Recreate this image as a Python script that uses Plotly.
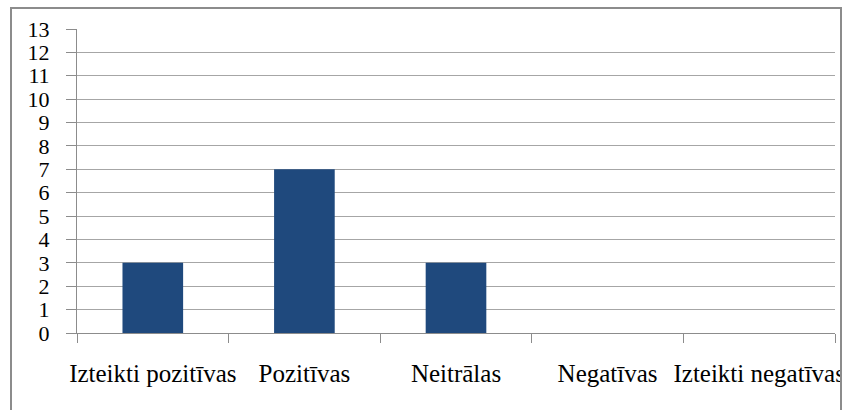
import plotly.graph_objects as go

categories = ["Izteikti pozitīvas", "Pozitīvas", "Neitrālas", "Negatīvas", "Izteikti negatīvas"]
counts = [3, 7, 3, 0, 0]
y_ticks = list(range(0, 14))

W, H = 843, 410
L, R, T, B = 77, 8, 29, 77
plot_w = W - L - R
plot_h = H - T - B

def px_x(px):
    return (px - L) / plot_w

def px_y(py):
    return (H - B - py) / plot_h

fig = go.Figure(
    go.Bar(
        x=categories,
        y=counts,
        marker=dict(color="#1F497D", line=dict(width=0)),
        width=0.4,
    )
)

serif = "Liberation Serif, Times New Roman, serif"

fig.update_layout(
    width=W,
    height=H,
    margin=dict(l=L, r=R, t=T, b=B, autoexpand=False),
    paper_bgcolor="white",
    plot_bgcolor="white",
    showlegend=False,
    font=dict(family=serif, color="black"),
    shapes=[
        # outer chart frame
        dict(type="rect", xref="paper", yref="paper",
             x0=px_x(11), x1=px_x(841), y0=px_y(430), y1=px_y(8),
             line=dict(color="#8C8C8C", width=2), layer="above"),
        # mask beyond the right frame edge
        dict(type="rect", xref="paper", yref="paper",
             x0=px_x(842), x1=px_x(860), y0=px_y(430), y1=px_y(0),
             fillcolor="white", line=dict(width=0), layer="above"),
    ],
)

fig.update_xaxes(
    type="category",
    automargin=False,
    tickangle=0,
    tickson="boundaries",
    ticks="outside",
    ticklen=9,
    tickcolor="#8C8C8C",
    tickwidth=1,
    showline=True,
    linecolor="#8C8C8C",
    linewidth=1,
    showgrid=False,
    tickfont=dict(family=serif, size=25, color="black"),
    ticklabelstandoff=18,
)

fig.update_yaxes(
    automargin=False,
    range=[0, 13],
    tickvals=y_ticks,
    ticks="outside",
    ticklen=10,
    tickcolor="#8C8C8C",
    tickwidth=1,
    showline=True,
    linecolor="#8C8C8C",
    linewidth=1,
    showgrid=True,
    gridcolor="#A6A6A6",
    gridwidth=1,
    zeroline=False,
    tickfont=dict(family=serif, size=22, color="black"),
    ticklabelstandoff=12,
)

fig.write_html("out.html")
